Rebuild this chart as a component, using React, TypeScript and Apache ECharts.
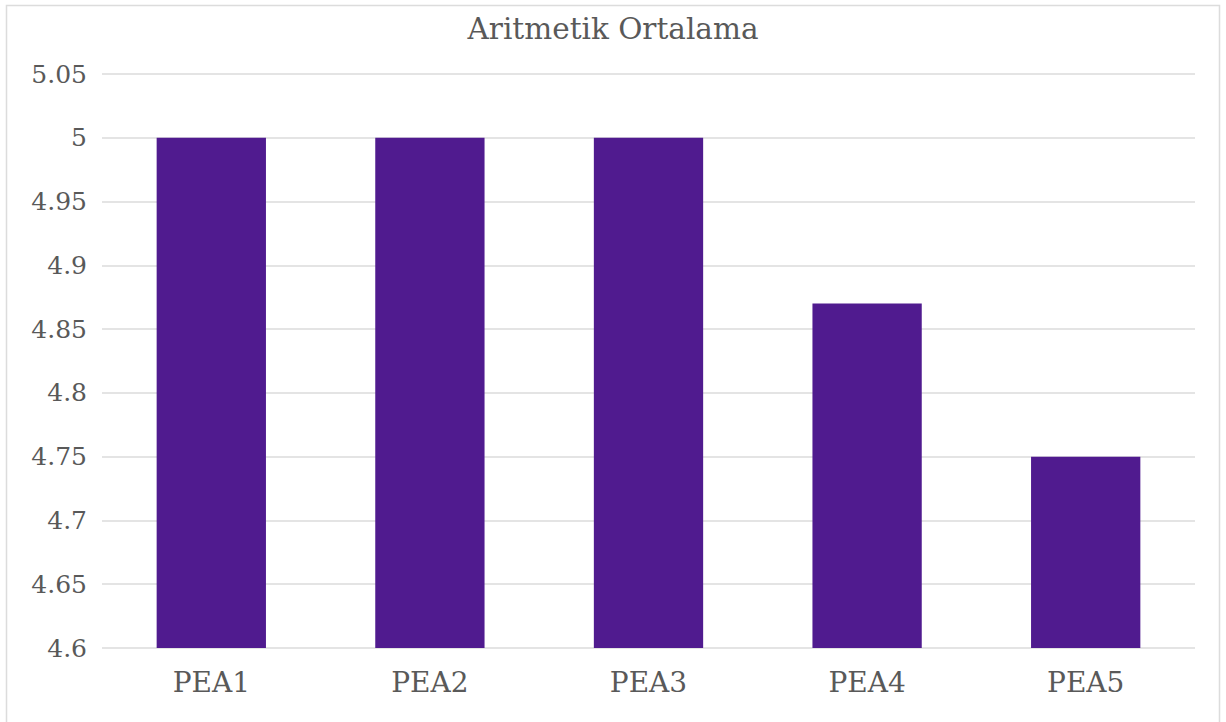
import React, { useEffect, useRef } from "react";
import * as echarts from "echarts";

const titleText = "Aritmetik Ortalama";
const categories = ["PEA1", "PEA2", "PEA3", "PEA4", "PEA5"];
const values = [5, 5, 5, 4.87, 4.75];
const yMin = 4.6;
const yMax = 5.05;
const yStep = 0.05;

export default function App() {
  const ref = useRef<HTMLDivElement>(null);
  useEffect(() => {
    if (!ref.current) return;
    const chart = echarts.init(ref.current, null, { renderer: "svg" });
    const font = "DejaVu Serif";
    chart.setOption({
      animation: false,
      backgroundColor: "#ffffff",
      textStyle: { fontFamily: font },
      title: {
        text: titleText,
        left: "center",
        top: 9,
        textStyle: { fontFamily: font, fontSize: 29.5, fontWeight: "normal", color: "#595959" },
      },
      graphic: [
        {
          type: "rect",
          shape: { x: 6.5, y: 5.5, width: 1213, height: 740 },
          style: { fill: "none", stroke: "#dcdcdc", lineWidth: 1.5 },
          silent: true,
        },
      ],
      grid: { left: 102, right: 31, top: 74, bottom: 74, containLabel: false },
      xAxis: {
        type: "category",
        data: categories,
        axisLine: { show: false },
        axisTick: { show: false },
        axisLabel: { fontFamily: font, fontSize: 28, color: "#595959", margin: 20 },
      },
      yAxis: {
        type: "value",
        min: yMin,
        max: yMax,
        interval: yStep,
        axisLine: { show: false },
        axisTick: { show: false },
        axisLabel: {
          fontFamily: font,
          fontSize: 25,
          color: "#595959",
          margin: 15,
          formatter: (v: number) => String(parseFloat(v.toFixed(2))),
        },
        splitLine: { lineStyle: { color: "#e4e4e4", width: 2 } },
      },
      series: [
        {
          type: "bar",
          data: values,
          barWidth: "50%",
          itemStyle: { color: "#501b8f" },
        },
      ],
    });
    return () => chart.dispose();
  }, []);
  return (
    <div
      ref={ref}
      style={{ position: "absolute", left: 0, top: 0, width: 1226, height: 722 }}
    />
  );
}
